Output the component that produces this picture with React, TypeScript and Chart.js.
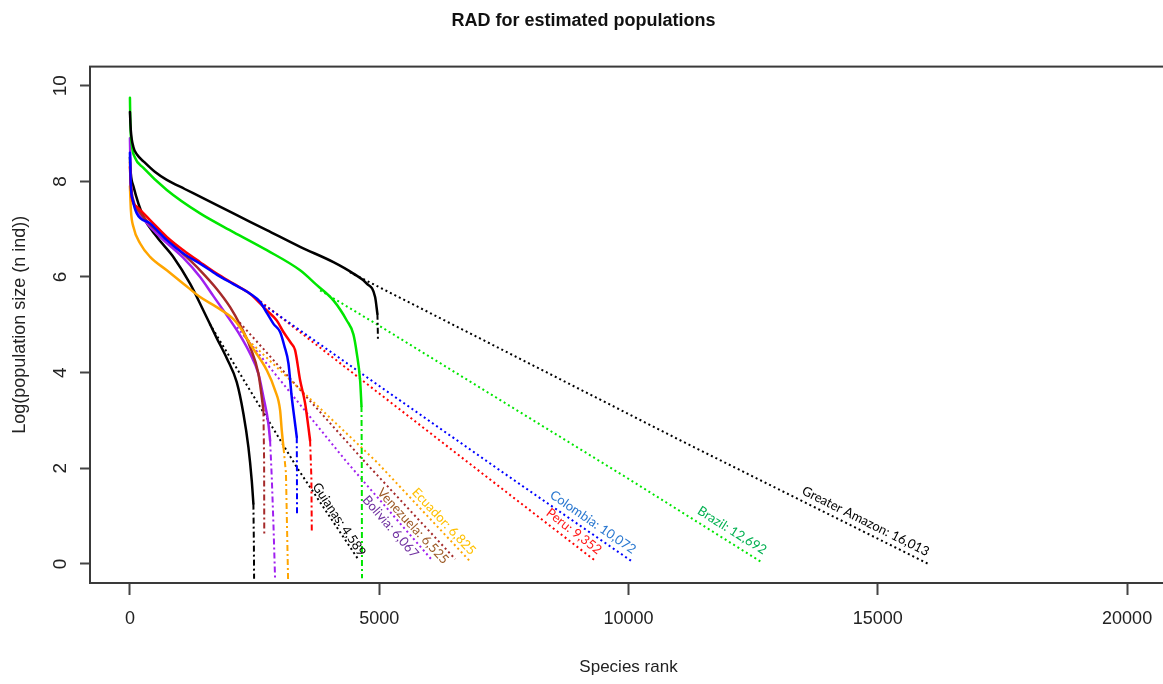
import { useEffect, useRef } from "react";
import { Chart, registerables } from "chart.js";

Chart.register(...registerables);

// ---- Rank-abundance data: log(population size) by species rank ----

// Greater Amazon
const amazonObsRank = [1, 20, 70, 150, 271, 500, 740, 1100, 1408, 2076, 2746, 3414, 4082, 4483, 4751, 4918, 4964];
const amazonObsLog = [9.45, 9.05, 8.72, 8.55, 8.42, 8.2, 8.03, 7.84, 7.68, 7.33, 6.98, 6.63, 6.31, 6.07, 5.86, 5.58, 5.23];
const amazonTailRank = [4964, 4970, 4975];
const amazonTailLog = [5.23, 5.0, 4.67];
const amazonEstRank = [4411, 10969, 16013];
const amazonEstLog = [6.1, 2.62, 0.0];

// Brazil
const brazilObsRank = [1, 10, 40, 100, 271, 740, 1408, 2076, 2746, 3414, 3750, 4082, 4350, 4483, 4551, 4617, 4645];
const brazilObsLog = [9.75, 9.2, 8.75, 8.5, 8.28, 7.82, 7.33, 6.94, 6.56, 6.14, 5.83, 5.51, 5.09, 4.8, 4.4, 3.84, 3.3];
const brazilTailRank = [4645, 4651, 4655];
const brazilTailLog = [3.3, 2.0, -0.3];
const brazilEstRank = [3815, 5017, 9998, 12692];
const brazilEstLog = [5.72, 4.97, 1.78, 0.02];

// Colombia
const colombiaObsRank = [1, 20, 60, 138, 405, 740, 1073, 1408, 1742, 2076, 2410, 2611, 2746, 2880, 3013, 3100, 3180, 3246, 3313, 3347];
const colombiaObsLog = [8.6, 7.9, 7.6, 7.33, 7.12, 6.77, 6.49, 6.28, 6.05, 5.85, 5.65, 5.48, 5.25, 5.02, 4.85, 4.55, 4.19, 3.49, 2.93, 2.65];
const colombiaTailRank = [3347, 3350, 3352];
const colombiaTailLog = [2.65, 2.0, 1.0];
const colombiaEstRank = [2611, 5017, 7691, 10072];
const colombiaEstLog = [5.47, 3.71, 1.76, 0.05];

// Peru
const peruObsRank = [1, 20, 38, 138, 405, 740, 1073, 1408, 1742, 2076, 2410, 2746, 2946, 3080, 3230, 3313, 3414, 3514, 3580, 3614];
const peruObsLog = [8.3, 7.9, 7.65, 7.47, 7.19, 6.84, 6.56, 6.31, 6.07, 5.86, 5.65, 5.3, 5.09, 4.85, 4.62, 4.47, 3.84, 3.36, 2.86, 2.58];
const peruTailRank = [3614, 3640, 3648];
const peruTailLog = [2.58, 1.8, 0.7];
const peruEstRank = [2617, 5017, 7230, 9352];
const peruEstLog = [5.49, 3.55, 1.76, 0.05];

// Ecuador
const ecuadorObsRank = [1, 20, 70, 206, 405, 740, 1073, 1408, 1742, 2076, 2210, 2410, 2746, 2912, 3013, 3046, 3080];
const ecuadorObsLog = [7.9, 7.4, 7.05, 6.7, 6.42, 6.14, 5.86, 5.58, 5.37, 5.12, 4.95, 4.6, 4.05, 3.63, 3.21, 2.79, 2.44];
const ecuadorTailRank = [3080, 3130, 3173];
const ecuadorTailLog = [2.44, 1.9, -0.35];
const ecuadorEstRank = [2300, 4951, 6825];
const ecuadorEstLog = [4.75, 2.13, 0.05];

// Venezuela
const venezuelaObsRank = [1, 20, 70, 206, 405, 740, 1073, 1408, 1742, 2010, 2210, 2410, 2577, 2645, 2678];
const venezuelaObsLog = [8.4, 7.95, 7.6, 7.35, 7.1, 6.8, 6.48, 6.14, 5.75, 5.37, 5.0, 4.54, 3.98, 3.49, 3.21];
const venezuelaTailRank = [2678, 2692, 2695];
const venezuelaTailLog = [3.21, 2.16, 0.63];
const venezuelaEstRank = [2200, 4716, 6525];
const venezuelaEstLog = [5.05, 2.13, 0.1];

// Bolivia
const boliviaObsRank = [1, 20, 70, 206, 606, 1073, 1408, 1675, 1943, 2210, 2410, 2577, 2678, 2778, 2812];
const boliviaObsLog = [8.9, 7.9, 7.55, 7.3, 6.84, 6.4, 6.0, 5.6, 5.2, 4.78, 4.4, 3.98, 3.49, 2.93, 2.58];
const boliviaTailRank = [2812, 2846, 2880, 2912];
const boliviaTailLog = [2.58, 1.8, 0.8, -0.31];
const boliviaEstRank = [2150, 4350, 6067];
const boliviaEstLog = [4.95, 2.13, 0.07];

// Guianas
const guianasObsRank = [1, 20, 70, 271, 539, 872, 1207, 1474, 1742, 1943, 2143, 2277, 2377, 2444, 2477];
const guianasObsLog = [8.5, 8.15, 7.9, 7.26, 6.84, 6.42, 5.86, 5.3, 4.72, 4.3, 3.8, 3.14, 2.44, 1.74, 1.26];
const guianasTailRank = [2477, 2487, 2491];
const guianasTailLog = [1.26, 0.4, -0.31];
const guianasEstRank = [1600, 3347, 4589];
const guianasEstLog = [5.02, 2.02, 0.08];

// Axis ticks
const xTicks = [0, 5000, 10000, 15000, 20000];
const yTicks = [0, 2, 4, 6, 8, 10];

// ---- Styling ----
const FONT = "'Liberation Sans', Arial, sans-serif";
const LABEL_FONT = "13px Lato, 'Open Sans', sans-serif";

type Region = {
  name: string;
  line: string;
  text: string;
  side: "above" | "below";
  gap: number;
  back: number;
  obsRank: number[];
  obsLog: number[];
  tailRank: number[];
  tailLog: number[];
  estRank: number[];
  estLog: number[];
};

const regions: Region[] = [
  { name: "Greater Amazon", line: "#000000", text: "#000000", side: "above", gap: 6, back: 5,
    obsRank: amazonObsRank, obsLog: amazonObsLog, tailRank: amazonTailRank, tailLog: amazonTailLog, estRank: amazonEstRank, estLog: amazonEstLog },
  { name: "Brazil", line: "#00e600", text: "#00b050", side: "above", gap: 7, back: 4,
    obsRank: brazilObsRank, obsLog: brazilObsLog, tailRank: brazilTailRank, tailLog: brazilTailLog, estRank: brazilEstRank, estLog: brazilEstLog },
  { name: "Colombia", line: "#0000ff", text: "#2a78d0", side: "above", gap: 6, back: 4,
    obsRank: colombiaObsRank, obsLog: colombiaObsLog, tailRank: colombiaTailRank, tailLog: colombiaTailLog, estRank: colombiaEstRank, estLog: colombiaEstLog },
  { name: "Peru", line: "#ff0000", text: "#ff1a1a", side: "above", gap: 6, back: 3,
    obsRank: peruObsRank, obsLog: peruObsLog, tailRank: peruTailRank, tailLog: peruTailLog, estRank: peruEstRank, estLog: peruEstLog },
  { name: "Ecuador", line: "#ffa500", text: "#ffc000", side: "above", gap: 4, back: 4,
    obsRank: ecuadorObsRank, obsLog: ecuadorObsLog, tailRank: ecuadorTailRank, tailLog: ecuadorTailLog, estRank: ecuadorEstRank, estLog: ecuadorEstLog },
  { name: "Venezuela", line: "#a52a2a", text: "#9c5a26", side: "below", gap: 2, back: 4,
    obsRank: venezuelaObsRank, obsLog: venezuelaObsLog, tailRank: venezuelaTailRank, tailLog: venezuelaTailLog, estRank: venezuelaEstRank, estLog: venezuelaEstLog },
  { name: "Bolivia", line: "#a020f0", text: "#7030a0", side: "below", gap: 3, back: 14,
    obsRank: boliviaObsRank, obsLog: boliviaObsLog, tailRank: boliviaTailRank, tailLog: boliviaTailLog, estRank: boliviaEstRank, estLog: boliviaEstLog },
  { name: "Guianas", line: "#000000", text: "#000000", side: "above", gap: 2, back: 2,
    obsRank: guianasObsRank, obsLog: guianasObsLog, tailRank: guianasTailRank, tailLog: guianasTailLog, estRank: guianasEstRank, estLog: guianasEstLog },
];

const toPoints = (xs: number[], ys: number[]) => xs.map((x, i) => ({ x, y: ys[i] }));

// Plot frame drawn around the whole plotting region
const framePlugin = {
  id: "frame",
  afterDraw(chart: any) {
    const { ctx, chartArea } = chart;
    ctx.save();
    ctx.strokeStyle = "#3a3a3a";
    ctx.lineWidth = 2;
    ctx.strokeRect(chartArea.left, chartArea.top, chartArea.right - chartArea.left, chartArea.bottom - chartArea.top);
    ctx.restore();
  },
};

// Region name + estimated species count written along each extrapolated line
const endLabelPlugin = {
  id: "endLabels",
  afterDatasetsDraw(chart: any) {
    const { ctx } = chart;
    const xs = chart.scales.x;
    const ys = chart.scales.y;
    regions.forEach((r) => {
      const n = r.estRank.length;
      const x1 = xs.getPixelForValue(r.estRank[n - 1]);
      const y1 = ys.getPixelForValue(r.estLog[n - 1]);
      const x0 = xs.getPixelForValue(r.estRank[n - 2]);
      const y0 = ys.getPixelForValue(r.estLog[n - 2]);
      const angle = Math.atan2(y1 - y0, x1 - x0);
      const label = `${r.name}: ${r.estRank[n - 1].toLocaleString("en-US")}`;
      ctx.save();
      ctx.translate(x1, y1);
      ctx.rotate(angle);
      ctx.font = LABEL_FONT;
      ctx.fillStyle = r.text;
      ctx.textAlign = "right";
      if (r.side === "above") {
        ctx.textBaseline = "alphabetic";
        ctx.fillText(label, -r.back, -r.gap);
      } else {
        ctx.textBaseline = "top";
        ctx.fillText(label, -r.back, r.gap);
      }
      ctx.restore();
    });
  },
};

export default function App() {
  const canvasRef = useRef<HTMLCanvasElement | null>(null);

  useEffect(() => {
    const canvas = canvasRef.current;
    if (!canvas) return;

    // Chart.js paints dataset 0 last, so the observed curves (listed first) sit on top.
    const datasets: any[] = [];
    // observed curves: solid
    regions.forEach((r) => {
      datasets.push({
        label: r.name,
        data: toPoints(r.obsRank, r.obsLog),
        borderColor: r.line,
        borderWidth: 2.5,
        pointRadius: 0,
        cubicInterpolationMode: "monotone",
        borderJoinStyle: "round",
        borderCapStyle: "round",
        fill: false,
      });
    });
    // rare-species tails: dash-dot drop
    regions.forEach((r) => {
      datasets.push({
        label: `${r.name} (tail)`,
        data: toPoints(r.tailRank, r.tailLog),
        borderColor: r.line,
        borderWidth: 2,
        borderDash: [6, 3, 2, 3],
        pointRadius: 0,
        tension: 0,
        fill: false,
      });
    });
    // extrapolated (estimated) parts: dotted
    regions.forEach((r) => {
      datasets.push({
        label: `${r.name} (estimated)`,
        data: toPoints(r.estRank, r.estLog),
        borderColor: r.line,
        borderWidth: 2,
        borderDash: [2, 3],
        pointRadius: 0,
        tension: 0,
        fill: false,
      });
    });

    const chart = new Chart(canvas, {
      type: "line",
      data: { datasets },
      options: {
        animation: false,
        responsive: false,
        maintainAspectRatio: false,
        layout: { padding: { left: 0, right: 8, top: 0, bottom: 0 } },
        plugins: {
          legend: { display: false },
          tooltip: { enabled: false },
          title: {
            display: true,
            text: "RAD for estimated populations",
            color: "#111111",
            font: { family: FONT, size: 18, weight: "bold" },
            padding: { top: 10, bottom: 35 },
          },
        },
        scales: {
          x: {
            type: "linear",
            min: -800,
            max: 20800,
            afterFit(scale: any) {
              scale.height = 101;
            },
            afterBuildTicks(scale: any) {
              scale.ticks = xTicks.map((v) => ({ value: v }));
            },
            ticks: {
              callback: (v: any) => String(v),
              color: "#222222",
              font: { family: FONT, size: 18 },
              padding: 13,
              maxRotation: 0,
              autoSkip: false,
            },
            grid: {
              display: true,
              drawOnChartArea: false,
              drawTicks: true,
              tickLength: 12,
              tickColor: "#444444",
              tickWidth: 2,
            },
            border: { display: false },
            title: {
              display: true,
              text: "Species rank",
              color: "#222222",
              font: { family: FONT, size: 17 },
              padding: { top: 0, bottom: 6 },
            },
          },
          y: {
            type: "linear",
            min: -0.4,
            max: 10.4,
            afterFit(scale: any) {
              scale.width = 90;
            },
            afterBuildTicks(scale: any) {
              scale.ticks = yTicks.map((v) => ({ value: v }));
            },
            ticks: {
              callback: (v: any) => String(v),
              color: "#222222",
              font: { family: FONT, size: 19 },
              minRotation: 90,
              maxRotation: 90,
              crossAlign: "center",
              padding: 9,
              autoSkip: false,
            },
            grid: {
              display: true,
              drawOnChartArea: false,
              drawTicks: true,
              tickLength: 10,
              tickColor: "#444444",
              tickWidth: 2,
            },
            border: { display: false },
            title: {
              display: true,
              text: "Log(population size (n ind))",
              color: "#222222",
              font: { family: FONT, size: 18 },
              padding: { top: 9, bottom: 0 },
            },
          },
        },
      } as any,
      plugins: [framePlugin, endLabelPlugin],
    });

    return () => chart.destroy();
  }, []);

  return (
    <div
      style={{
        position: "absolute",
        left: 0,
        top: 0,
        width: 1163,
        height: 684,
        overflow: "hidden",
        background: "#ffffff",
      }}
    >
      <canvas ref={canvasRef} width={1175} height={684} style={{ display: "block" }} />
    </div>
  );
}
